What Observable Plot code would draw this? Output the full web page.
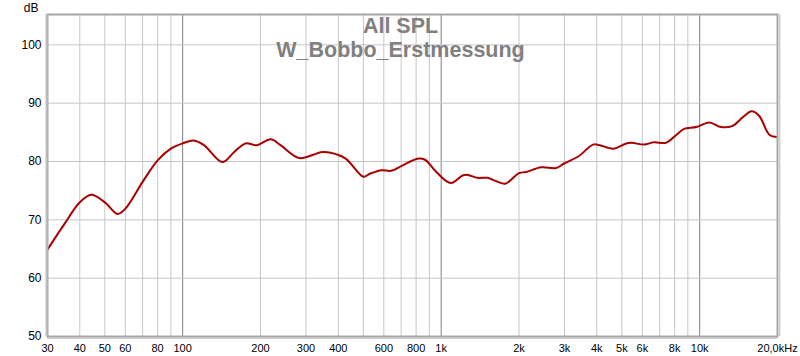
<!DOCTYPE html>
<html><head><meta charset="utf-8">
<script src="https://cdn.jsdelivr.net/npm/d3@7"></script>
<script src="https://cdn.jsdelivr.net/npm/@observablehq/plot@0.6"></script>
<style>body{margin:0;background:#fff}</style>
</head><body><div id="chart"></div>
<script>
const freqHz = [30, 34.9, 40, 44.3, 50, 56, 60, 70, 80, 90, 100, 110.6, 120.9, 142.5, 158, 175, 194, 219, 239, 282, 322, 342, 374, 427, 500, 530, 587, 640, 707, 816, 866, 958, 1090, 1210, 1270, 1380, 1510, 1640, 1770, 2000, 2130, 2440, 2790, 3000, 3400, 3870, 4100, 4630, 5200, 5450, 6100, 6650, 7400, 8100, 8700, 9700, 10900, 12100, 13400, 14700, 15900, 17000, 18600, 20000];
const splDb = [64.9, 69.3, 73.0, 74.3, 73.0, 71.0, 71.9, 76.5, 80.2, 82.2, 83.1, 83.6, 82.8, 79.9, 81.6, 83.1, 82.8, 83.8, 82.8, 80.6, 81.2, 81.6, 81.5, 80.5, 77.4, 77.9, 78.5, 78.4, 79.3, 80.5, 80.3, 78.2, 76.3, 77.6, 77.7, 77.2, 77.2, 76.6, 76.2, 78.0, 78.2, 79.0, 78.9, 79.7, 80.9, 82.9, 82.8, 82.2, 83.1, 83.2, 82.9, 83.3, 83.2, 84.5, 85.6, 85.9, 86.7, 85.9, 86.1, 87.6, 88.6, 87.8, 84.6, 84.2];

const xTickValues = [30, 40, 50, 60, 80, 100, 200, 300, 400, 600, 800, 1000, 2000, 3000, 4000, 5000, 6000, 8000, 10000, 20000];
const xTickLabels = ["30", "40", "50", "60", "80", "100", "200", "300", "400", "600", "800", "1k", "2k", "3k", "4k", "5k", "6k", "8k", "10k", "20,0kHz"];
const xMinorGrid = [40, 50, 60, 70, 80, 90, 200, 300, 400, 500, 600, 700, 800, 900, 2000, 3000, 4000, 5000, 6000, 7000, 8000, 9000];
const xDecadeGrid = [100, 1000, 10000];
const yTicks = [50, 60, 70, 80, 90, 100];
const yUnit = "dB";
const titleLines = ["All SPL", "W_Bobbo_Erstmessung"];

const data = freqHz.map((f, i) => ({f, db: splDb[i]}));

const plot = Plot.plot({
  width: 800, height: 356,
  marginLeft: 47, marginRight: 23, marginTop: 14, marginBottom: 20,
  style: {fontFamily: "'Liberation Sans', Arial, sans-serif", background: "#fff", color: "#000"},
  x: {type: "log", domain: [30, 20000], axis: null},
  y: {domain: [50, 105.2], axis: null},
  marks: [
    Plot.ruleX(xMinorGrid, {stroke: "#c6c6c6", strokeWidth: 1}),
    Plot.ruleX(xDecadeGrid, {stroke: "#808080", strokeWidth: 1}),
    Plot.ruleY(yTicks.slice(1), {stroke: "#c6c6c6", strokeWidth: 1}),
    Plot.text([titleLines.join("\n")], {frameAnchor: "top", lineAnchor: "top", lineHeight: 1.12, fontSize: 21.5, fontWeight: "bold", fill: "#808080", dy: 1, dx: -12}),
    Plot.line(data, {x: "f", y: "db", stroke: "#a80000", strokeWidth: 2, curve: "catmull-rom"}),
    Plot.frame({stroke: "#a6a6a6", strokeWidth: 2}),
    Plot.ruleX([20000], {stroke: "#d0d0d0", strokeWidth: 2, dx: 2}),
    Plot.ruleY([50], {stroke: "#c0c0c0", strokeWidth: 1.5, dy: 1.5}),
    Plot.ruleX([30], {stroke: "#c0c0c0", strokeWidth: 2, dx: -1}),
    Plot.text(xTickValues, {x: d => d, frameAnchor: "bottom", lineAnchor: "top", dy: 8, fontSize: 11, fill: "#000", text: (d, i) => xTickLabels[i]}),
    Plot.axisY(yTicks, {tickSize: 0, tickPadding: 6, fontSize: 12, label: null}),
    Plot.text([yUnit], {frameAnchor: "top-left", lineAnchor: "bottom", textAnchor: "end", dx: -9, dy: -3, fontSize: 12, fill: "#000"})
  ]
});
document.getElementById("chart").appendChild(plot);
</script>
</body></html>
